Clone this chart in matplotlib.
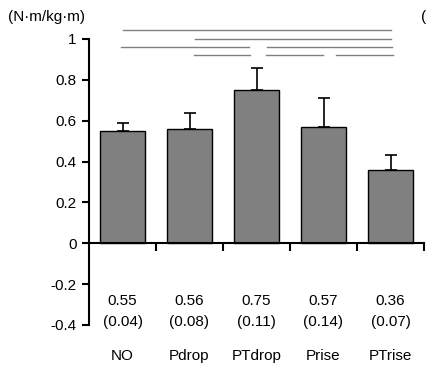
import numpy as np
import matplotlib.pyplot as plt

plt.rcParams['font.family'] = ['Liberation Sans', 'DejaVu Sans']

conditions = ["NO", "Pdrop", "PTdrop", "Prise", "PTrise"]
means = [0.55, 0.56, 0.75, 0.57, 0.36]
sds = [0.04, 0.08, 0.11, 0.14, 0.07]

# significance bars between conditions: start, end (bar index units), height
sig_start = [0.0, 1.08, -0.02, 2.16, 1.07, 2.14, 3.19]
sig_end = [4.0, 4.0, 1.89, 4.02, 1.9, 2.99, 4.04]
sig_height = [1.044, 1.0, 0.961, 0.961, 0.922, 0.922, 0.922]

fig = plt.figure(figsize=(4.26, 3.72), dpi=100)
ax = fig.add_axes([89/426, 1 - 325/372, 335/426, 286/372])

x = np.arange(len(conditions))
ax.bar(x, means, width=0.67, color="#808080", edgecolor="black", linewidth=1, zorder=2)
ax.errorbar(x, means, yerr=[np.zeros(len(sds)), sds], fmt="none", ecolor="black",
            elinewidth=1.2, capsize=4, capthick=1.2, zorder=1)

ax.set_xlim(-0.5, 4.5)
ax.set_ylim(-0.4, 1.0)
ax.set_yticks([-0.4, -0.2, 0, 0.2, 0.4, 0.6, 0.8, 1])
ax.set_yticklabels(["-0.4", "-0.2", "0", "0.2", "0.4", "0.6", "0.8", "1"], fontsize=11)
ax.tick_params(axis="y", direction="out", length=5, width=1.5, pad=4)

ax.spines["top"].set_visible(False)
ax.spines["right"].set_visible(False)
ax.spines["left"].set_linewidth(1.5)
ax.spines["bottom"].set_position(("data", 0))
ax.spines["bottom"].set_linewidth(1.5)
ax.set_xticks(x + 0.5)
ax.set_xticklabels([])
ax.tick_params(axis="x", direction="out", length=6, width=1.5)

for i, c in enumerate(conditions):
    ax.text(i, -0.282, "%.2f" % means[i], ha="center", va="center", fontsize=11)
    ax.text(i, -0.385, "(%.2f)" % sds[i], ha="center", va="center", fontsize=11)
    ax.text(i, -0.55, c, ha="center", va="center", fontsize=11, clip_on=False)

for x0, x1, h in zip(sig_start, sig_end, sig_height):
    ax.plot([x0, x1], [h, h], color="#808080", lw=1, clip_on=False)

fig.text(8/426, 1 - 17/372, "(N\u00b7m/kg\u00b7m)", fontsize=11, va="center", ha="left")
fig.text(421/426, 1 - 17/372, "(", fontsize=11, va="center", ha="left")

fig.savefig("out.png", dpi=100)
